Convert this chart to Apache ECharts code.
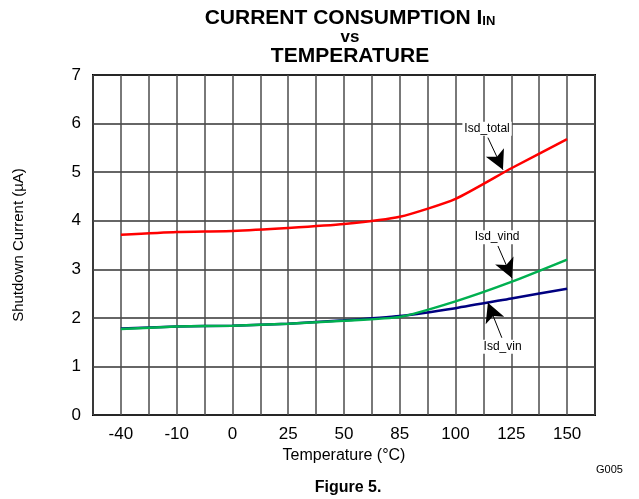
<!DOCTYPE html>
<html lang="en">
<head>
  <meta charset="UTF-8">
  <title>Current consumption vs temperature</title>
  <style>
    html, body, #chart { margin: 0; padding: 0; width: 639px; height: 499px; background: #fff; }
  </style>
</head>
<body>
<div id="chart"></div>
<script src="https://cdn.jsdelivr.net/npm/echarts@6/dist/echarts.min.js"></script>
<script>
  // temperature points (evenly spaced on the plot)
  var temps = ['-40', '-10', '0', '25', '50', '85', '100', '125', '150'];
  var isdTotal = [3.71, 3.77, 3.79, 3.85, 3.93, 4.08, 4.45, 5.08, 5.68];
  var isdVin = [1.78, 1.82, 1.84, 1.88, 1.95, 2.04, 2.2, 2.4, 2.6];
  var isdVind = [1.77, 1.82, 1.84, 1.88, 1.94, 2.02, 2.34, 2.74, 3.2];

  // annotation arrows: [label, startX, startY, tipX, tipY] in axis units
  var notes = [
    ['Isd_total', 6.58, 5.71, 6.85, 5.05],
    ['Isd_vind', 6.76, 3.48, 7.01, 2.82],
    ['Isd_vin', 6.83, 1.59, 6.58, 2.31]
  ];

  var font = 'Liberation Sans, Arial, sans-serif';

  function pairs(vals) {
    return vals.map(function (v, i) { return [i, v]; });
  }

  function arrow(n) {
    return {
      silent: true,
      symbol: ['none', 'arrow'],
      symbolSize: [15, 19],
      lineStyle: { color: '#000', width: 1, type: 'solid' },
      label: {
        show: true, position: 'start', formatter: n[0], distance: 2,
        color: '#000', fontFamily: font, fontSize: 12,
        backgroundColor: '#fff', padding: [1, 2]
      },
      data: [[{ coord: [n[1], n[2]] }, { coord: [n[3], n[4]] }]]
    };
  }

  function line(name, vals, color, note) {
    return {
      name: name, type: 'line', data: pairs(vals), showSymbol: false, smooth: 0.2,
      lineStyle: { color: color, width: 2.5 }, itemStyle: { color: color },
      markLine: arrow(note)
    };
  }

  var chart = echarts.init(document.getElementById('chart'));
  chart.setOption({
    backgroundColor: '#fff',
    animation: false,
    title: [{
      text: '{a|CURRENT CONSUMPTION I}{sub|IN}\n{v|vs}\n{a|TEMPERATURE}',
      left: 345, top: 3, textAlign: 'center',
      textStyle: {
        rich: {
          a: { fontFamily: font, fontSize: 21, fontWeight: 'bold', color: '#000', lineHeight: 20 },
          v: { fontFamily: font, fontSize: 17, fontWeight: 'bold', color: '#000', lineHeight: 18 },
          sub: { fontFamily: font, fontSize: 13, fontWeight: 'bold', color: '#000', lineHeight: 20, verticalAlign: 'bottom', padding: [9, 0, 0, 0] }
        }
      }
    }, {
      text: 'G005', left: 591, top: 459,
      textStyle: { fontFamily: font, fontSize: 11, fontWeight: 'normal', color: '#000' }
    }, {
      text: 'Figure 5.', left: 343, top: 475, textAlign: 'center',
      textStyle: { fontFamily: font, fontSize: 16, fontWeight: 'bold', color: '#000' }
    }],
    grid: { left: 93, top: 75, right: 44, bottom: 84, show: true, borderColor: '#000', borderWidth: 2 },
    xAxis: {
      type: 'value', min: -0.5, max: 8.5, interval: 0.5,
      name: 'Temperature (°C)', nameLocation: 'middle', nameGap: 33,
      nameTextStyle: { fontFamily: font, fontSize: 16, color: '#000' },
      axisLine: { show: false }, axisTick: { show: false },
      axisLabel: {
        fontFamily: font, fontSize: 17, color: '#000', margin: 11,
        showMinLabel: false, showMaxLabel: false,
        formatter: function (v) { return Number.isInteger(v) ? temps[v] : ''; }
      },
      splitLine: { lineStyle: { color: '#4d4d4d', width: 1.5 } }
    },
    yAxis: {
      type: 'value', min: 0, max: 7, interval: 1,
      name: 'Shutdown Current (µA)', nameLocation: 'middle', nameGap: 67,
      nameTextStyle: { fontFamily: font, fontSize: 15, color: '#000' },
      axisLine: { show: false }, axisTick: { show: false },
      axisLabel: { fontFamily: font, fontSize: 17, color: '#000', margin: 12 },
      splitLine: { lineStyle: { color: '#333', width: 1.5 } }
    },
    series: [
      line('Isd_total', isdTotal, '#ff0000', notes[0]),
      line('Isd_vin', isdVin, '#000080', notes[2]),
      line('Isd_vind', isdVind, '#00b050', notes[1])
    ]
  });
</script>
</body>
</html>
